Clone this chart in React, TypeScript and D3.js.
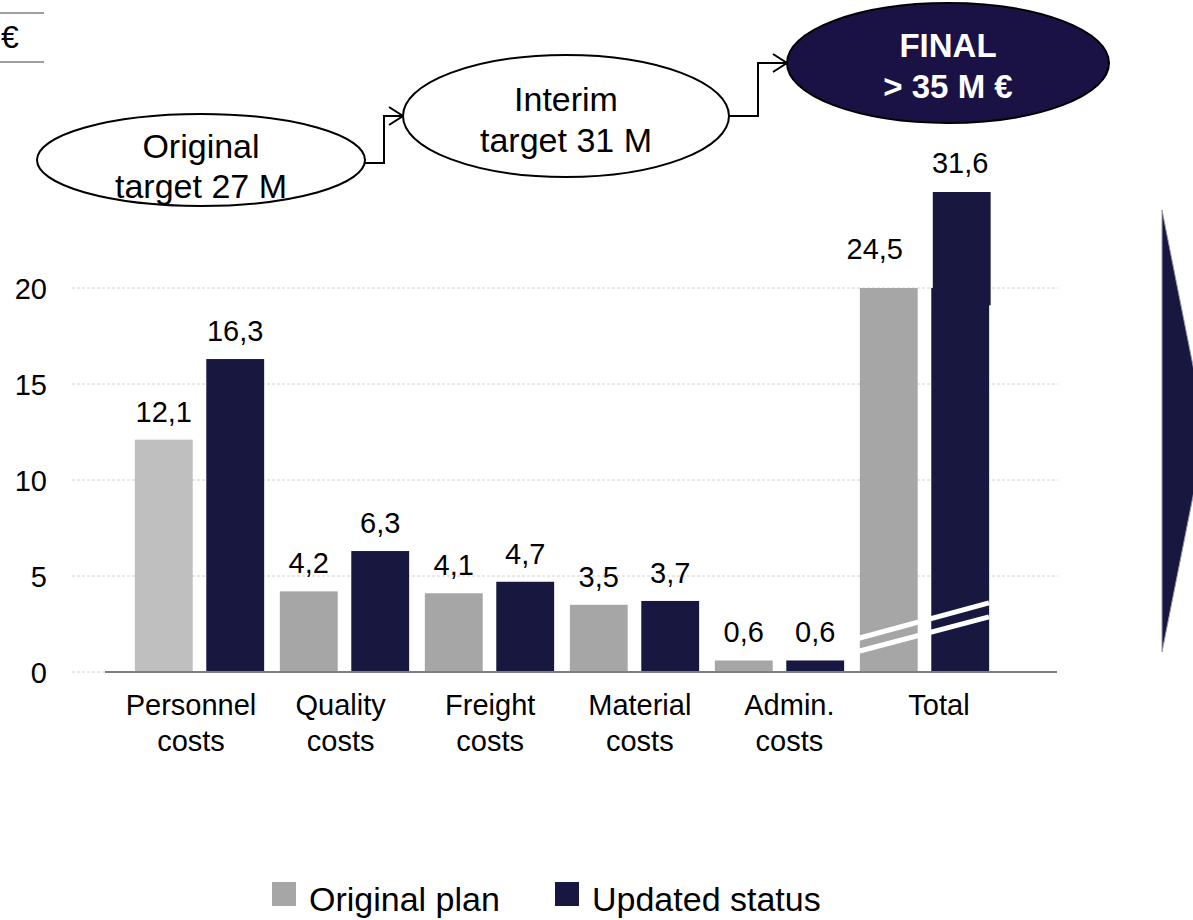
import React from "react";
import * as d3 from "d3";

const categories = ["Personnel costs", "Quality costs", "Freight costs", "Material costs", "Admin. costs", "Total"];
const categoryLines = [["Personnel", "costs"], ["Quality", "costs"], ["Freight", "costs"], ["Material", "costs"], ["Admin.", "costs"], ["Total"]];
const seriesNames = ["Original plan", "Updated status"];
const originalPlan = [12.1, 4.2, 4.1, 3.5, 0.6, 24.5];
const updatedStatus = [16.3, 6.3, 4.7, 3.7, 0.6, 31.6];
// the total bars are drawn cut (broken axis), these are the heights shown
const totalShown = [20, 25];
const totalLabelAt = [21.5, 26];
const yTicks = [0, 5, 10, 15, 20];
const targets = [
  { lines: ["Original", "target 27 M"] },
  { lines: ["Interim", "target 31 M"] },
  { lines: ["FINAL", "> 35 M €"] },
];

const W = 1193, H = 920;
const GRAY_FIRST = "#bfbfbf", GRAY = "#a6a6a6", NAVY = "#17173f";
const FONT = "'Liberation Sans', Arial, sans-serif";

const fmt = (v: number) => v.toFixed(1).replace(".", ",");

export default function App() {
  const y = d3.scaleLinear().domain([0, 20]).range([672, 288]);
  const x0 = d3.scaleBand<string>().domain(categories).range([127, 997]);
  const x1 = d3.scaleBand<string>().domain(seriesNames).range([0, x0.bandwidth()]).paddingInner(0.19).paddingOuter(0.11);
  const bw = x1.bandwidth();
  const xLabel = d3.scalePoint<string>().domain(categories).range([191, 939]);

  const bars: any[] = [];
  categories.forEach((c, i) => {
    const isTotal = c === "Total";
    [originalPlan[i], updatedStatus[i]].forEach((v, s) => {
      const shown = isTotal ? totalShown[s] : v;
      const labelV = isTotal ? totalLabelAt[s] : null;
      bars.push({
        c, s, v, shown, labelV, isTotal,
        x: (x0(c) as number) + (x1(seriesNames[s]) as number),
        color: s === 1 ? NAVY : i === 0 ? GRAY_FIRST : GRAY,
      });
    });
  });

  const totalX = x0("Total") as number;
  const breakLine = d3.line<[number, number]>().x(d => d[0]).y(d => y(d[1]));
  const breaks: [number, number][][] = [
    [[totalX + 4, 1.72], [totalX + x0.bandwidth() - 8, 3.6]],
    [[totalX + 4, 1.04], [totalX + x0.bandwidth() - 8, 2.87]],
  ];

  // ellipses for the target steps
  const ells = [
    { cx: 201, cy: 160, rx: 164, ry: 46 },
    { cx: 566, cy: 116, rx: 163, ry: 61 },
    { cx: 948, cy: 63, rx: 161, ry: 60 },
  ];
  const textDy = [[-2, 38], [-5, 36], [-6, 35]];
  const connector = (a: any, b: any, midX: number) => {
    const sx = a.cx + a.rx, sy = a.cy + (a === ells[0] ? 3 : 0);
    const ex = b.cx - b.rx, ey = b.cy;
    return `M${sx},${sy}H${midX}V${ey}H${ex}M${ex - 14},${ey - 9}L${ex},${ey}L${ex - 14},${ey + 9}`;
  };

  const legendX = [272, 555];

  return (
    <svg width={W} height={H} style={{ position: "absolute", left: 0, top: 0, fontFamily: FONT }}>
      <rect width={W} height={H} fill="#fff" />
      {/* unit label */}
      <line x1={0} x2={44} y1={13} y2={13} stroke="#808080" strokeWidth={1.5} />
      <line x1={0} x2={44} y1={62} y2={62} stroke="#808080" strokeWidth={1.5} />
      <text x={1} y={48} fontSize={32}>€</text>

      {/* grid + y axis */}
      {yTicks.map(t => (
        <g key={t}>
          {t > 0 && <line x1={72} x2={1058} y1={y(t)} y2={y(t)} stroke="#d0d0d0" strokeDasharray="3,2" />}
          {t === 0 && <line x1={72} x2={105} y1={y(t)} y2={y(t)} stroke="#d0d0d0" strokeDasharray="3,2" />}
          <text x={47} y={y(t) + 11} fontSize={29} textAnchor="end">{t}</text>
        </g>
      ))}

      {/* bars */}
      {bars.map((b, k) => (
        <g key={k}>
          {b.isTotal && b.s === 1 ? (
            <>
              <rect x={b.x} y={y(20)} width={bw} height={y(0) - y(20)} fill={b.color} />
              <rect x={b.x + 1.5} y={y(b.shown)} width={bw} height={y(19.1) - y(b.shown)} fill={b.color} />
            </>
          ) : (
            <rect x={b.x} y={y(b.shown)} width={bw} height={y(0) - y(b.shown)} fill={b.color} />
          )}
          <text
            x={b.x + bw / 2 + (b.isTotal && b.s === 0 ? -14 : 0)}
            y={b.labelV != null ? y(b.labelV) : y(b.shown) - 18}
            fontSize={29}
            textAnchor="middle"
          >
            {fmt(b.v)}
          </text>
        </g>
      ))}

      {/* axis break marks on the totals */}
      {breaks.map((p, i) => (
        <path key={i} d={breakLine(p) as string} stroke="#fff" strokeWidth={5} fill="none" />
      ))}
      <line x1={105} x2={1057} y1={y(0)} y2={y(0)} stroke="#7f7f7f" strokeWidth={2} />

      {/* category labels */}
      {categories.map((c, i) => (
        <text key={c} fontSize={29} textAnchor="middle">
          {categoryLines[i].map((l, j) => (
            <tspan key={j} x={xLabel(c)} y={715 + j * 36}>{l}</tspan>
          ))}
        </text>
      ))}

      {/* target path */}
      <path d={connector(ells[0], ells[1], 384)} stroke="#000" strokeWidth={2} fill="none" />
      <path d={connector(ells[1], ells[2], 758)} stroke="#000" strokeWidth={2} fill="none" />
      {ells.map((e, i) => (
        <g key={i}>
          <ellipse cx={e.cx} cy={e.cy} rx={e.rx} ry={e.ry} fill={i === 2 ? "#1a1244" : "#fff"} stroke="#000" strokeWidth={2} />
          {targets[i].lines.map((l, j) => (
            <text
              key={j}
              x={e.cx}
              y={e.cy + textDy[i][j]}
              fontSize={i === 2 ? 33 : 34}
              fontWeight={i === 2 ? "bold" : "normal"}
              fill={i === 2 ? "#fff" : "#000"}
              textAnchor="middle"
            >
              {l}
            </text>
          ))}
        </g>
      ))}

      {/* arrow on the right edge */}
      <path d="M1162,210L1206,431L1162,652Z" fill={NAVY} stroke="#9a9aa8" strokeWidth={1} />

      {/* legend */}
      {seriesNames.map((n, i) => (
        <g key={n}>
          <rect x={legendX[i]} y={882} width={24} height={24} fill={i === 0 ? GRAY : NAVY} />
          <text x={legendX[i] + 37} y={911} fontSize={34}>{n}</text>
        </g>
      ))}
    </svg>
  );
}
